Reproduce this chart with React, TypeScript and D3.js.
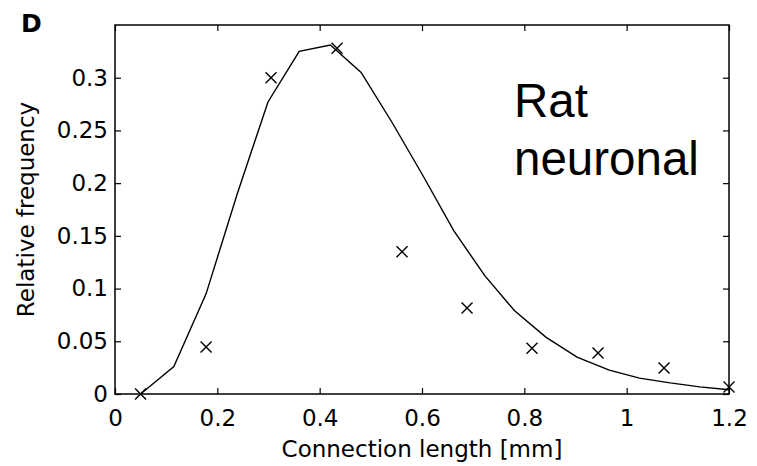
import React, { useEffect, useRef } from 'react';
import * as d3 from 'd3';

// measured crosses (data)
const dataX = [0.05, 0.178, 0.305, 0.434, 0.561, 0.688, 0.815, 0.944, 1.073, 1.2];
const dataY = [0, 0.0445, 0.3, 0.328, 0.135, 0.0815, 0.0435, 0.0388, 0.0246, 0.0066];

// fitted curve
const fitX = [0.05, 0.115, 0.178, 0.239, 0.299, 0.36, 0.421, 0.481, 0.541, 0.602,
    0.662, 0.723, 0.781, 0.842, 0.903, 0.966, 1.025, 1.085, 1.143, 1.2];
const fitY = [0, 0.026, 0.095, 0.19, 0.277, 0.325, 0.331, 0.305, 0.258, 0.207,
    0.155, 0.112, 0.079, 0.054, 0.035, 0.0227, 0.015, 0.0105, 0.0068, 0.004];

const xTicks = [0, 0.2, 0.4, 0.6, 0.8, 1, 1.2];
const yTicks = [0, 0.05, 0.1, 0.15, 0.2, 0.25, 0.3];

const W = 757;
const H = 466;
const margin = { top: 25, right: 28, bottom: 72, left: 115 };

export default function App() {
    const svgRef = useRef<SVGSVGElement>(null);

    useEffect(() => {
        const svg = d3.select(svgRef.current);
        svg.selectAll("*").remove();

        const width = W - margin.left - margin.right;
        const height = H - margin.top - margin.bottom;
        const font = "'DejaVu Sans', sans-serif";

        const x = d3.scaleLinear().domain([0, 1.2]).range([0, width]);
        const y = d3.scaleLinear().domain([0, 0.35]).range([height, 0]);

        const g = svg.append("g")
            .attr("transform", `translate(${margin.left},${margin.top})`);

        const fmt = (d: any) => String(d);

        const styleAxis = (sel: any) => {
            sel.select(".domain").remove();
            sel.selectAll(".tick line").attr("stroke", "#000").attr("stroke-width", 1.2);
            sel.selectAll("text").attr("fill", "#000").style("font-family", font).style("font-size", "23px");
        };

        g.append("g")
            .attr("transform", `translate(0,${height})`)
            .call(d3.axisBottom(x).tickValues(xTicks).tickFormat(fmt).tickSizeInner(-6).tickSizeOuter(0).tickPadding(16))
            .call(styleAxis);
        g.append("g")
            .call(d3.axisLeft(y).tickValues(yTicks).tickFormat(fmt).tickSizeInner(-6).tickSizeOuter(0).tickPadding(7))
            .call(styleAxis);
        g.append("g")
            .call(d3.axisTop(x).tickValues(xTicks).tickFormat(() => "").tickSizeInner(-6).tickSizeOuter(0))
            .call(styleAxis);
        g.append("g")
            .attr("transform", `translate(${width},0)`)
            .call(d3.axisRight(y).tickValues(yTicks).tickFormat(() => "").tickSizeInner(-6).tickSizeOuter(0))
            .call(styleAxis);

        g.append("rect")
            .attr("width", width)
            .attr("height", height)
            .attr("fill", "none")
            .attr("stroke", "#000")
            .attr("stroke-width", 1.5);

        const line = d3.line<number>()
            .x((_, i) => x(fitX[i]))
            .y(d => y(d));

        g.append("path")
            .datum(fitY)
            .attr("d", line)
            .attr("fill", "none")
            .attr("stroke", "#000")
            .attr("stroke-width", 1.4);

        const s = 5.5;
        const crosses = g.append("g").selectAll("g")
            .data(dataY)
            .join("g")
            .attr("transform", (d, i) => `translate(${x(dataX[i])},${y(d)})`);
        crosses.append("path")
            .attr("d", `M${-s},${-s}L${s},${s}M${-s},${s}L${s},${-s}`)
            .attr("stroke", "#000")
            .attr("stroke-width", 1.4);

        svg.append("text")
            .attr("x", margin.left + width / 2)
            .attr("y", 457)
            .attr("text-anchor", "middle")
            .style("font-family", font)
            .style("font-size", "23px")
            .text("Connection length [mm]");

        svg.append("text")
            .attr("transform", `translate(34,${margin.top + height / 2}) rotate(-90)`)
            .attr("text-anchor", "middle")
            .style("font-family", font)
            .style("font-size", "23px")
            .text("Relative frequency");

        svg.append("text")
            .attr("x", 21)
            .attr("y", 32)
            .style("font-family", font)
            .style("font-weight", "bold")
            .style("font-size", "25px")
            .text("D");

        const note = svg.append("text")
            .style("font-family", "'Liberation Sans', Arial, sans-serif")
            .style("font-size", "47.5px");
        note.append("tspan").attr("x", 514).attr("y", 117).text("Rat");
        note.append("tspan").attr("x", 514).attr("y", 175).text("neuronal");
    }, []);

    return (
        <svg
            ref={svgRef}
            width={W}
            height={H}
            style={{ position: "absolute", left: 0, top: 0, background: "#fff" }}
        />
    );
}
